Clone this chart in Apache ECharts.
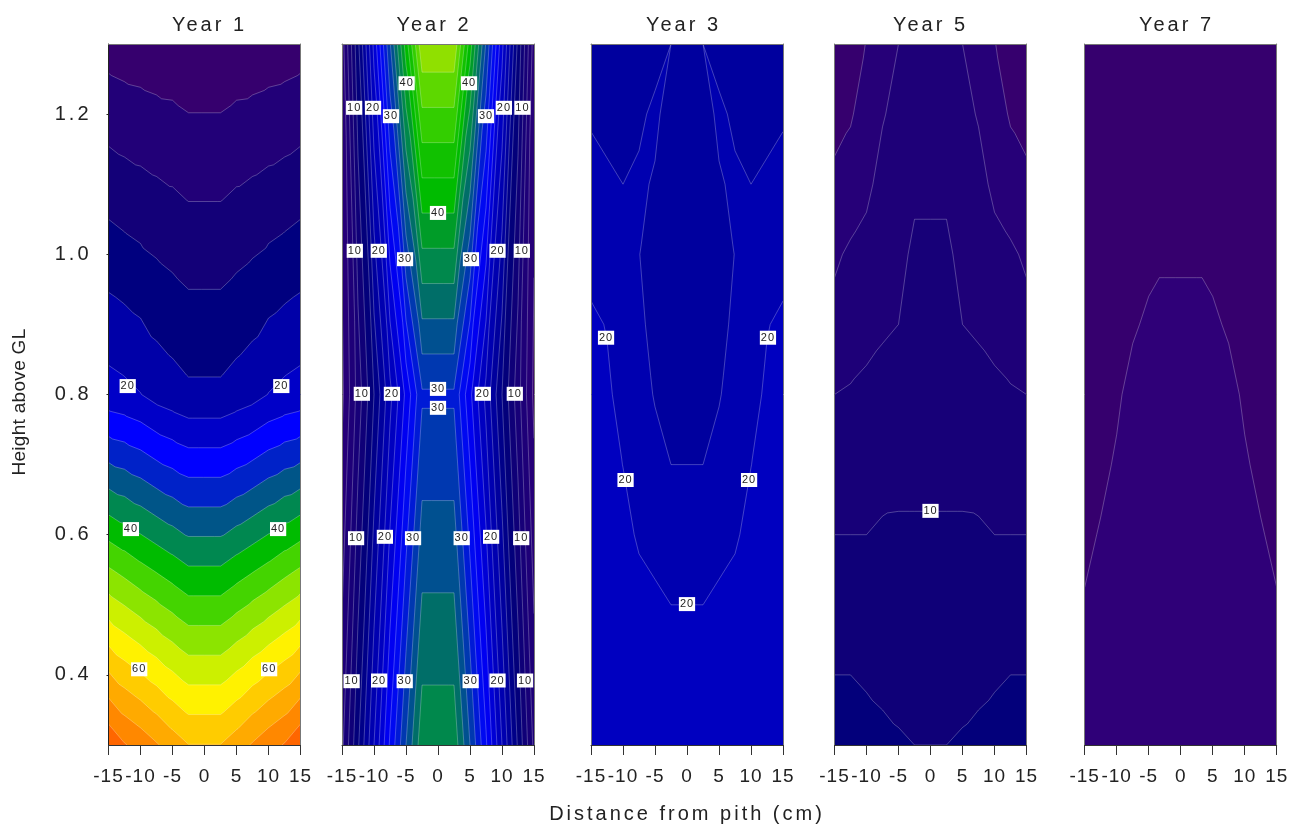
<!DOCTYPE html>
<html>
<head>
<meta charset="utf-8">
<style>html,body{margin:0;padding:0;background:#fff}#c{width:1297px;height:825px}</style>
<script src="https://cdn.jsdelivr.net/npm/echarts@6/dist/echarts.min.js"></script>
</head>
<body>
<div id="c"></div>
<script>
// ---------- data ----------
const panelTitles = ['Year 1', 'Year 2', 'Year 3', 'Year 5', 'Year 7'];
const xTicks = [-15, -10, -5, 0, 5, 10, 15];
const yTicks = [0.4, 0.6, 0.8, 1.0, 1.2];
const halfCols = [2.5, 5, 7.5, 10, 12.5, 15];   // distance from pith, mirrored

const year1Rows = [1.3, 1.05, 0.8, 0.55, 0.3];
const year1Z = [
  [0.9, 1.4, 1.5, 1.8, 2.0, 2.4],
  [8.8, 9.5, 10.1, 10.7, 11.3, 12.0],
  [16.8, 17.7, 18.6, 20.1, 21.0, 21.6],
  [40.5, 42.1, 43.6, 45.1, 46.8, 48.4],
  [64.1, 66.1, 68.4, 70.5, 72.3, 75.2]
];
const year1Levels = [4, 8, 12, 16, 20, 24, 28, 32, 36, 40, 44, 48, 52, 56, 60, 64, 68, 72];
const year1Labels = [[-12, 0.812, 20], [12, 0.812, 20], [-11.5, 0.608, 40], [11.5, 0.608, 40], [-10.2, 0.408, 60], [10.1, 0.408, 60]];

const year2Rows = [1.3, 0.8, 0.3];
const year2Z = [
  [49.6, 41.0, 31.8, 22.6, 13.5, 5.0],
  [29.7, 24.5, 19.4, 14.0, 8.8, 3.5],
  [37.3, 32.0, 26.3, 20.0, 13.7, 7.5]
];
const year2Levels = [4, 6, 8, 10, 12, 14, 16, 18, 20, 22, 24, 26, 28, 30, 32, 34, 36, 38, 40, 42, 44, 46, 48];
const year2Labels = [
  [-4.9, 1.244, 40], [4.85, 1.244, 40],
  [-13.1, 1.209, 10], [-10.15, 1.209, 20], [-7.35, 1.197, 30], [7.5, 1.197, 30], [10.3, 1.209, 20], [13.2, 1.209, 10],
  [0, 1.059, 40],
  [-13, 1.005, 10], [-9.25, 1.005, 20], [-5.15, 0.993, 30], [5.15, 0.993, 30], [9.3, 1.005, 20], [13.1, 1.005, 10],
  [-11.9, 0.801, 10], [-7.2, 0.801, 20], [0, 0.808, 30], [0, 0.781, 30], [7, 0.801, 20], [12, 0.801, 10],
  [-12.8, 0.595, 10], [-8.3, 0.597, 20], [-3.9, 0.595, 30], [3.7, 0.595, 30], [8.3, 0.597, 20], [13, 0.595, 10],
  [-13.5, 0.391, 10], [-9.2, 0.392, 20], [-5.2, 0.391, 30], [5.1, 0.391, 30], [9.3, 0.392, 20], [13.6, 0.392, 10]
];

const tenthRows = [1.3, 1.2, 1.1, 1.0, 0.9, 0.8, 0.7, 0.6, 0.5, 0.4, 0.3];
const year3Z = [
  [18, 16.8, 16.8, 16.8, 16.9, 17.0],
  [16.7, 18.6, 17.45, 17.2, 17.5, 17.8],
  [16.2, 17.7, 18.5, 18.0, 18.3, 18.6],
  [16.2, 17.1, 18.05, 18.6, 18.9, 19.2],
  [16.2, 17.4, 18.4, 19.2, 19.9, 20.4],
  [16.6, 17.85, 18.9, 19.3, 20.35, 20.9],
  [18.0, 18.7, 19.2, 19.97, 20.8, 21.2],
  [18.8, 19.3, 19.7, 20.7, 21.2, 21.5],
  [20.0, 20.4, 20.8, 21.2, 21.5, 21.8],
  [20.6, 20.9, 21.2, 21.4, 21.6, 21.8],
  [21.0, 21.2, 21.4, 21.6, 21.7, 21.9]
];
const year3Levels = [18, 20];
const year3Labels = [[-12.65, 0.881, 20], [12.65, 0.881, 20], [-9.6, 0.678, 20], [9.7, 0.678, 20], [0, 0.501, 20]];

const year5Z = [
  [6.5, 6.0, 5.0, 4.05, 3.4, 3.0],
  [7.2, 6.8, 5.8, 4.9, 3.8, 3.2],
  [7.9, 7.6, 6.9, 5.4, 4.9, 4.53],
  [8.1, 7.85, 7.4, 6.9, 6.3, 5.7],
  [8.4, 8.0, 7.7, 7.3, 6.9, 6.6],
  [9.3, 9.1, 8.8, 8.5, 8.2, 8.0],
  [9.6, 9.6, 9.5, 9.3, 9.2, 9.1],
  [10.2, 10.2, 10.18, 10.0, 10.0, 10.0],
  [10.6, 10.6, 10.6, 10.6, 10.6, 10.7],
  [10.9, 11.1, 11.3, 11.6, 12.0, 12.0],
  [12.0, 12.3, 12.7, 13.2, 13.3, 13.5]
];
const year5Levels = [4, 6, 8, 10, 12];
const year5Labels = [[0, 0.634, 10]];

const year7Z = [
  [3.5, 3.4, 3.4, 3.3, 3.2, 3.2],
  [3.5, 3.4, 3.4, 3.3, 3.2, 3.2],
  [3.6, 3.5, 3.4, 3.3, 3.2, 3.2],
  [3.9, 3.7, 3.5, 3.4, 3.3, 3.2],
  [4.2, 4.2, 3.85, 3.7, 3.5, 3.3],
  [4.7, 4.6, 4.4, 3.8, 3.6, 3.4],
  [4.8, 4.7, 4.5, 4.15, 3.7, 3.5],
  [4.9, 4.8, 4.6, 4.4, 4.1, 3.7],
  [4.9, 4.8, 4.6, 4.5, 4.4, 4.1],
  [4.9, 4.8, 4.7, 4.6, 4.5, 4.3],
  [4.9, 4.8, 4.7, 4.6, 4.5, 4.4]
];
const year7Levels = [4];
const year7Labels = [];

// colour of a band, by the value at its middle
const colorStops = [
  [3.5, '#36006e'], [4.5, '#2f0078'], [5, '#260078'], [7, '#1e0078'], [9, '#170078'], [11, '#0f0078'],
  [13, '#03007b'], [14, '#00007f'], [18, '#0000a8'],
  [22, '#0000c8'], [26, '#0000ff'], [30, '#0022c8'], [31, '#0038b0'], [33, '#005090'], [34, '#005588'],
  [35, '#006e68'], [37, '#00884c'], [38, '#008850'], [39, '#009c28'], [41, '#00bb00'], [42, '#00bb00'],
  [46, '#44d400'], [49, '#90e000'], [50, '#8ce400'], [54, '#ccf000'], [58, '#fff200'],
  [62, '#ffcc00'], [66, '#ffaa00'], [70, '#ff8800'], [74, '#ff6600']
];

const panels = [
  { rows: year1Rows, z: year1Z, levels: year1Levels, labels: year1Labels, left: 108.5, titleX: 204.5 },
  { rows: year2Rows, z: year2Z, levels: year2Levels, labels: year2Labels, left: 342, titleX: 429 },
  { rows: tenthRows, z: year3Z, levels: year3Levels, labels: year3Labels, left: 591, titleX: 678.5 },
  { rows: tenthRows, z: year5Z, levels: year5Levels, labels: year5Labels, left: 834.5, titleX: 925.5 },
  { rows: tenthRows, z: year7Z, levels: year7Levels, labels: year7Labels, left: 1084.7, titleX: 1171.5 }
];

// ---------- letter spacing of the original lettering ----------
const spacingByText = { 'Height above GL': '0.3px' };
const spacingBySize = { 20: '3px', 19: '1px', 11: '1px' };
const rawFill = CanvasRenderingContext2D.prototype.fillText;
CanvasRenderingContext2D.prototype.fillText = function (t, x, y, m) {
  const size = parseInt((/(\d+)px/.exec(this.font) || [])[1], 10);
  if ('letterSpacing' in this) this.letterSpacing = spacingByText[t] || spacingBySize[size] || '0px';
  return m === undefined ? rawFill.call(this, t, x, y) : rawFill.call(this, t, x, y, m);
};

// ---------- helpers ----------
function hexRgb(h) { return [1, 3, 5].map(i => parseInt(h.substr(i, 2), 16)); }
function colorOf(v) {
  if (v <= colorStops[0][0]) return colorStops[0][1];
  for (let i = 1; i < colorStops.length; i++) {
    if (v <= colorStops[i][0]) {
      const a = colorStops[i - 1], b = colorStops[i], t = (v - a[0]) / (b[0] - a[0]);
      const ca = hexRgb(a[1]), cb = hexRgb(b[1]);
      return 'rgb(' + ca.map((c, k) => Math.round(c + (cb[k] - c) * t)).join(',') + ')';
    }
  }
  return colorStops[colorStops.length - 1][1];
}
function clipAbove(poly, level) {
  const out = [];
  for (let i = 0; i < poly.length; i++) {
    const a = poly[i], b = poly[(i + 1) % poly.length];
    const ia = a[2] >= level, ib = b[2] >= level;
    if (ia) out.push(a);
    if (ia !== ib) {
      const t = (level - a[2]) / (b[2] - a[2]);
      out.push([a[0] + (b[0] - a[0]) * t, a[1] + (b[1] - a[1]) * t, level]);
    }
  }
  return out;
}
function build(p) {
  const xs = halfCols.slice().reverse().map(v => -v).concat(halfCols);
  const full = p.z.map(r => r.slice().reverse().concat(r));
  const tris = [];
  for (let r = 0; r < p.rows.length - 1; r++) {
    for (let c = 0; c < xs.length - 1; c++) {
      const A = [xs[c], p.rows[r], full[r][c]], B = [xs[c + 1], p.rows[r], full[r][c + 1]];
      const C = [xs[c], p.rows[r + 1], full[r + 1][c]], D = [xs[c + 1], p.rows[r + 1], full[r + 1][c + 1]];
      let useAD;
      if (Math.min(A[2], D[2]) > Math.max(B[2], C[2])) useAD = true;
      else if (Math.min(B[2], C[2]) > Math.max(A[2], D[2])) useAD = false;
      else useAD = Math.abs(A[2] - D[2]) <= Math.abs(B[2] - C[2]);
      if (useAD) tris.push([A, B, D], [A, D, C]);
      else tris.push([A, B, C], [B, D, C]);
    }
  }
  const step = p.levels.length > 1 ? p.levels[1] - p.levels[0] : 1;
  // each band paints everything at or above its lower level; the next band paints over it
  const bands = [];
  for (let b = 0; b <= p.levels.length; b++) {
    const lo = b === 0 ? -1e9 : p.levels[b - 1];
    const polys = [];
    tris.forEach(t => {
      const poly = clipAbove(t, lo);
      if (poly.length >= 3) polys.push(poly.map(v => [v[0], v[1]]));
    });
    bands.push({ color: colorOf(p.levels[0] - step / 2 + b * step), polys });
  }
  const lines = [];
  p.levels.forEach(L => {
    tris.forEach(t => {
      const seg = [];
      for (let i = 0; i < 3; i++) {
        const a = t[i], b = t[(i + 1) % 3];
        if ((a[2] < L) !== (b[2] < L)) {
          const k = (L - a[2]) / (b[2] - a[2]);
          seg.push([a[0] + (b[0] - a[0]) * k, a[1] + (b[1] - a[1]) * k]);
        }
      }
      if (seg.length === 2) lines.push(seg);
    });
  });
  return { bands, lines };
}
function pathOf(polys, api, close) {
  return polys.map(poly => poly.map((q, i) => {
    const c = api.coord(q);
    return (i ? 'L' : 'M') + c[0].toFixed(2) + ' ' + c[1].toFixed(2);
  }).join('') + (close ? 'Z' : '')).join('');
}

// ---------- chart ----------
const grids = [], xAxes = [], yAxes = [], series = [], titles = [];
const FONT = '"Liberation Sans", Arial, sans-serif';
panels.forEach((p, i) => {
  grids.push({ left: p.left, top: 44, width: 192, height: 701, outerBoundsMode: 'none', containLabel: false });
  const xi = i * 2, yi = i * 2;
  xAxes.push({
    gridIndex: i, type: 'value', min: -15, max: 15, interval: 5, position: 'bottom', z: 5,
    axisLine: { show: true, onZero: false, lineStyle: { color: '#333', width: 1 } },
    axisTick: { show: true, length: 10, lineStyle: { color: '#333', width: 1 } },
    axisLabel: { show: true, margin: 22, fontFamily: FONT, fontSize: 19, color: '#222', hideOverlap: false, showMinLabel: true, showMaxLabel: true, customValues: xTicks },
    splitLine: { show: false },
    name: i === 2 ? 'Distance from pith (cm)' : '',
    nameLocation: 'middle', nameGap: 59,
    nameTextStyle: { fontFamily: FONT, fontSize: 20, color: '#222' }
  });
  xAxes.push({
    gridIndex: i, type: 'value', min: -15, max: 15, position: 'top', z: 5,
    axisLine: { show: true, onZero: false, lineStyle: { color: '#777', width: 1 } },
    axisTick: { show: false }, axisLabel: { show: false }, splitLine: { show: false }
  });
  yAxes.push({
    gridIndex: i, type: 'value', min: 0.3, max: 1.3, position: 'left', z: 5,
    axisLine: { show: true, onZero: false, lineStyle: { color: i === 0 ? '#222' : '#777', width: 1 } },
    axisTick: { show: i === 0, length: 2, lineStyle: { color: '#222' }, customValues: yTicks },
    axisLabel: { show: i === 0, margin: 17, fontFamily: FONT, fontSize: 20, color: '#222', customValues: yTicks, formatter: v => v.toFixed(1) },
    splitLine: { show: false },
    name: i === 0 ? 'Height above GL' : '',
    nameLocation: 'middle', nameGap: 79,
    nameTextStyle: { fontFamily: FONT, fontSize: 19, color: '#222', padding: [0, 15, 0, 0] }
  });
  yAxes.push({
    gridIndex: i, type: 'value', min: 0.3, max: 1.3, position: 'right', z: 5,
    axisLine: { show: true, onZero: false, lineStyle: { color: '#777', width: 1 } },
    axisTick: { show: false }, axisLabel: { show: false }, splitLine: { show: false }
  });
  titles.push({
    text: panelTitles[i], left: p.titleX, top: 10, textAlign: 'center',
    textStyle: { fontFamily: FONT, fontSize: 20, fontWeight: 'normal', color: '#222' }
  });
  const built = build(p);
  series.push({
    type: 'custom', coordinateSystem: 'cartesian2d', xAxisIndex: xi, yAxisIndex: yi, silent: true, clip: true, z: 2,
    animation: false,
    data: built.bands.map(b => b.polys.length ? b.polys[0][0] : [0, 0.8]),
    renderItem(params, api) {
      const b = built.bands[params.dataIndex];
      if (!b.polys.length) return null;
      return { type: 'path', shape: { pathData: pathOf(b.polys, api, true) }, style: { fill: b.color } };
    }
  });
  series.push({
    type: 'custom', coordinateSystem: 'cartesian2d', xAxisIndex: xi, yAxisIndex: yi, silent: true, clip: true, z: 3,
    animation: false,
    data: [[0, 0.8]],
    renderItem(params, api) {
      return {
        type: 'path', shape: { pathData: pathOf(built.lines, api, false) },
        style: { fill: null, stroke: 'rgba(255,255,255,0.32)', lineWidth: 0.8 }
      };
    }
  });
  series.push({
    type: 'scatter', coordinateSystem: 'cartesian2d', xAxisIndex: xi, yAxisIndex: yi, silent: true, z: 4,
    animation: false, symbolSize: 0, itemStyle: { opacity: 1 },
    data: p.labels.map(l => ({ value: [l[0], l[1]], name: String(l[2]) })),
    label: {
      show: true, position: 'inside', formatter: '{b}', fontFamily: FONT, fontSize: 11, color: '#222', opacity: 1,
      backgroundColor: '#fff', padding: [2, 2, 1, 2], align: 'center', verticalAlign: 'middle'
    }
  });
});

const chart = echarts.init(document.getElementById('c'), null, { renderer: 'canvas' });
chart.setOption({
  animation: false, backgroundColor: '#fff',
  title: titles, grid: grids, xAxis: xAxes, yAxis: yAxes, series
});
</script>
</body>
</html>
